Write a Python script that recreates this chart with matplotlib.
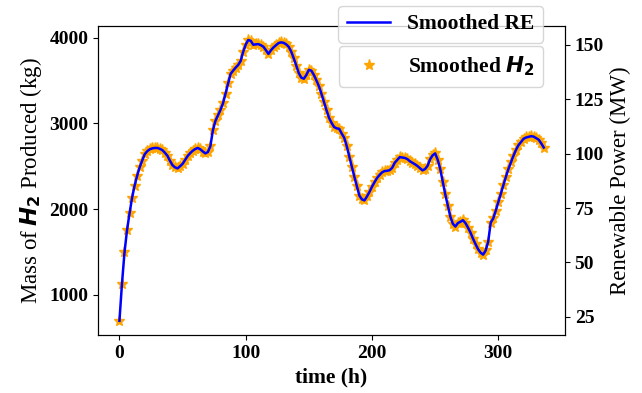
import numpy as np
import matplotlib
matplotlib.use("Agg")
import matplotlib.pyplot as plt

plt.rcParams['font.family'] = ['Liberation Serif', 'DejaVu Serif']
plt.rcParams['mathtext.fontset'] = 'custom'
plt.rcParams['mathtext.it'] = 'DejaVu Sans:italic:bold'
plt.rcParams['mathtext.rm'] = 'DejaVu Sans:bold'
plt.rcParams['mathtext.bf'] = 'DejaVu Sans:bold'

# hours, sampled every 2 h
hours = np.arange(0, 337, 2)

# smoothed hydrogen mass (kg)
h2_kg = [697, 1128, 1494, 1754, 1952, 2132, 2275, 2389, 2488, 2567,
         2640, 2675, 2698, 2709, 2715, 2714, 2703, 2688, 2657, 2622,
         2564, 2512, 2488, 2476, 2500, 2529, 2573, 2619, 2652, 2682,
         2701, 2715, 2699, 2672, 2651, 2665, 2735, 2919, 3029, 3094,
         3159, 3235, 3349, 3468, 3576, 3614, 3651, 3682, 3730, 3835,
         3921, 3974, 3963, 3918, 3922, 3926, 3912, 3895, 3853, 3811,
         3853, 3888, 3911, 3938, 3946, 3940, 3922, 3894, 3839, 3759,
         3675, 3587, 3535, 3521, 3565, 3625, 3614, 3565, 3502, 3433,
         3344, 3247, 3154, 3064, 3006, 2957, 2942, 2938, 2882, 2834,
         2733, 2613, 2496, 2379, 2269, 2158, 2114, 2103, 2148, 2202,
         2263, 2315, 2363, 2400, 2430, 2444, 2448, 2455, 2483, 2540,
         2575, 2607, 2602, 2597, 2584, 2560, 2540, 2524, 2503, 2478,
         2453, 2467, 2505, 2582, 2628, 2651, 2576, 2471, 2322, 2173,
         2040, 1914, 1831, 1796, 1837, 1852, 1871, 1837, 1784, 1725,
         1656, 1592, 1532, 1492, 1470, 1518, 1620, 1844, 1892, 1983,
         2081, 2180, 2279, 2376, 2467, 2547, 2622, 2690, 2746, 2783,
         2821, 2836, 2843, 2851, 2846, 2828, 2811, 2768, 2719]

# smoothed renewable power (MW)
re_mw = [23.2, 40.2, 54.6, 64.8, 72.6, 79.7, 85.3, 89.8, 93.7, 96.8,
         99.7, 101.1, 102.0, 102.4, 102.6, 102.6, 102.2, 101.6, 100.4, 99.0,
         96.7, 94.7, 93.7, 93.2, 94.2, 95.3, 97.1, 98.9, 100.2, 101.3,
         102.1, 102.6, 102.0, 101.0, 100.1, 100.7, 103.4, 110.7, 115.0, 117.6,
         120.1, 123.1, 127.6, 132.3, 136.6, 138.1, 139.5, 140.7, 142.6, 146.8,
         150.1, 152.2, 151.8, 150.0, 150.2, 150.3, 149.8, 149.1, 147.5, 145.8,
         147.5, 148.8, 149.8, 150.8, 151.1, 150.9, 150.2, 149.1, 146.9, 143.8,
         140.5, 137.0, 134.9, 134.4, 136.1, 138.5, 138.1, 136.1, 133.6, 130.9,
         127.4, 123.6, 119.9, 116.4, 114.1, 112.2, 111.6, 111.4, 109.2, 107.3,
         103.4, 98.6, 94.0, 89.4, 85.1, 80.7, 79.0, 78.5, 80.3, 82.4,
         84.8, 86.9, 88.8, 90.2, 91.4, 92.0, 92.1, 92.4, 93.5, 95.8,
         97.1, 98.4, 98.2, 98.0, 97.5, 96.5, 95.8, 95.1, 94.3, 93.3,
         92.3, 92.9, 94.4, 97.4, 99.2, 100.1, 97.2, 93.0, 87.2, 81.3,
         76.1, 71.1, 67.8, 66.5, 68.1, 68.7, 69.4, 68.1, 66.0, 63.7,
         60.9, 58.4, 56.1, 54.5, 53.6, 55.5, 59.5, 68.3, 70.2, 73.8,
         77.7, 81.6, 85.5, 89.3, 92.9, 96.0, 99.0, 101.7, 103.9, 105.3,
         106.8, 107.4, 107.7, 108.0, 107.8, 107.1, 106.4, 104.7, 102.8]

fig, ax1 = plt.subplots(figsize=(6.42, 3.93), dpi=100)
fig.subplots_adjust(left=0.153, right=0.880, bottom=0.148, top=0.934)

ax1.plot(hours, h2_kg, '*', color='orange', markersize=8, label=r'Smoothed $H_2$')
ax1.set_xlabel('time (h)', fontsize=15.5, fontweight='bold')
ax1.set_ylabel(r'Mass of $H_2$ Produced (kg)', fontsize=16.5)
ax1.set_yticks([1000, 2000, 3000, 4000])
ax1.set_xticks([0, 100, 200, 300])

ax2 = ax1.twinx()
ax2.plot(hours, re_mw, color='blue', linewidth=1.8, label='Smoothed RE')
ax2.set_ylabel('Renewable Power (MW)', fontsize=16.5)
ax2.set_yticks([25, 50, 75, 100, 125, 150])

for ax in (ax1, ax2):
    for lbl in ax.get_xticklabels() + ax.get_yticklabels():
        lbl.set_fontsize(14)
        lbl.set_fontweight('bold')

ax2.legend(loc='upper right', bbox_to_anchor=(0.846, 0.986), bbox_transform=fig.transFigure,
           borderaxespad=0, prop={'weight': 'bold', 'size': 15.5})
ax1.legend(loc='upper right', bbox_to_anchor=(0.846, 0.883), bbox_transform=fig.transFigure,
           borderaxespad=0, prop={'weight': 'bold', 'size': 15.5})

plt.savefig('out.png', dpi=100)
